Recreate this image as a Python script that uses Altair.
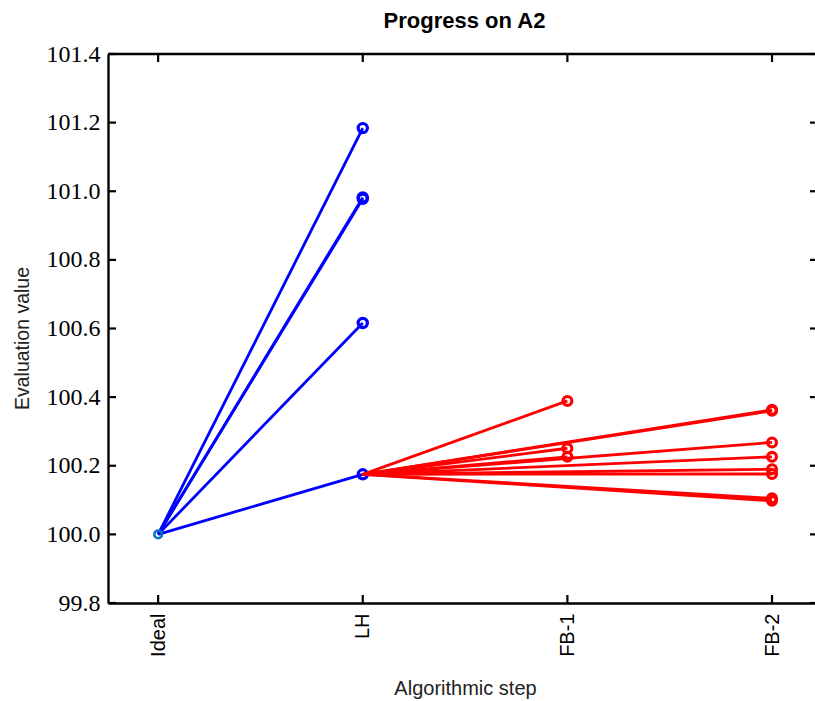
import altair as alt
import pandas as pd

# ---- data ----
chart_title = "Progress on A2"
steps = ["Ideal", "LH", "FB-1", "FB-2"]
ideal_value = 100.0
lh_values = [101.184, 100.982, 100.978, 100.616, 100.175]   # blue segments Ideal -> LH
lh_base = 100.175                                            # start of red segments
fb1_values = [100.389, 100.251, 100.226]                     # red segments LH -> FB-1
fb2_values = [100.363, 100.360, 100.268, 100.226, 100.190, 100.176, 100.105, 100.098]  # LH -> FB-2
y_ticks = [99.8, 100.0, 100.2, 100.4, 100.6, 100.8, 101.0, 101.2, 101.4]
x_ticks = [0, 1, 2, 3]

# ---- tables ----
blue_rows, red_rows = [], []
for i, v in enumerate(lh_values):
    blue_rows += [{"run": f"b{i}", "step": 0, "value": ideal_value},
                  {"run": f"b{i}", "step": 1, "value": v}]
for i, v in enumerate(fb1_values):
    red_rows += [{"run": f"r1_{i}", "step": 1, "value": lh_base},
                 {"run": f"r1_{i}", "step": 2, "value": v}]
for i, v in enumerate(fb2_values):
    red_rows += [{"run": f"r2_{i}", "step": 1, "value": lh_base},
                 {"run": f"r2_{i}", "step": 3, "value": v}]
blue_df = pd.DataFrame(blue_rows)
red_df = pd.DataFrame(red_rows)
blue_pts = blue_df[blue_df.step == 1]
red_pts = red_df[red_df.step > 1]
ideal_df = pd.DataFrame({"step": [0], "value": [ideal_value]})
ytick_df = pd.DataFrame({"value": y_ticks})
xtick_df = pd.DataFrame({"step": x_ticks})
title_df = pd.DataFrame({"t": [chart_title]})

W, H = 707, 549
SANS = "Liberation Sans"
SERIF = "Liberation Serif"

x_scale = alt.Scale(domain=[-0.245, 3.21], nice=False, zero=False)
y_scale = alt.Scale(domain=[99.8, 101.4], nice=False, zero=False)

label_expr = "[" + ",".join(f"'{s}'" for s in steps) + "][datum.value]"
x_axis = alt.Axis(values=x_ticks, labelExpr=label_expr, ticks=False, grid=False,
                  domain=True, domainColor="black", domainWidth=2.4,
                  labelAngle=270, labelFont=SANS, labelFontSize=20, labelColor="black",
                  labelPadding=10, title="Algorithmic step", titleFont=SANS,
                  titleFontSize=20, titleFontWeight="normal", titleColor="#222",
                  titleX=357, titleY=91, titleAlign="center", titleBaseline="alphabetic")
y_axis = alt.Axis(values=y_ticks, format=".1f", ticks=False, grid=False,
                  domain=True, domainColor="black", domainWidth=2.4,
                  labelFont=SERIF, labelFontSize=24, labelColor="black", labelPadding=8,
                  title="Evaluation value", titleFont=SANS, titleFontSize=19.5,
                  titleFontWeight="normal", titleColor="#222",
                  titleX=-80, titleY=284, titleAngle=270, titleAlign="center",
                  titleBaseline="alphabetic")

X = alt.X("step:Q", scale=x_scale, axis=x_axis)
Y = alt.Y("value:Q", scale=y_scale, axis=y_axis)

BLUE, RED, IDEAL = "#0000ff", "#ff0000", "#0a74bd"

blue_lines = alt.Chart(blue_df).mark_line(color=BLUE, strokeWidth=2.8).encode(
    x=X, y=Y, detail="run:N")
ideal_pt = alt.Chart(ideal_df).mark_point(color=IDEAL, filled=False, size=58, strokeWidth=2.6,
                                          opacity=1).encode(x=X, y=Y)
blue_points = alt.Chart(blue_pts).mark_point(color=BLUE, filled=False, size=85, strokeWidth=3.2,
                                             opacity=1).encode(x=X, y=Y)
red_lines = alt.Chart(red_df).mark_line(color=RED, strokeWidth=2.8).encode(
    x=X, y=Y, detail="run:N")
red_points = alt.Chart(red_pts).mark_point(color=RED, filled=False, size=78, strokeWidth=3.2,
                                           opacity=1).encode(x=X, y=Y)

# inward tick marks and top spine
tick_style = dict(color="black", strokeWidth=2.2)
left_ticks = alt.Chart(ytick_df).mark_rule(**tick_style).encode(
    y=Y, x=alt.value(0), x2=alt.value(8))
right_ticks = alt.Chart(ytick_df).mark_rule(**tick_style).encode(
    y=Y, x=alt.value(W - 5), x2=alt.value(W))
bottom_ticks = alt.Chart(xtick_df).mark_rule(**tick_style).encode(
    x=X, y=alt.value(H), y2=alt.value(H - 8))
top_ticks = alt.Chart(xtick_df).mark_rule(**tick_style).encode(
    x=X, y=alt.value(0), y2=alt.value(8))
top_spine = alt.Chart(ideal_df).mark_rule(color="black", strokeWidth=2.4).encode(
    x=alt.value(0), x2=alt.value(W), y=alt.value(0))

title_mark = alt.Chart(title_df).mark_text(
    font=SANS, fontSize=22, fontWeight="bold", color="black",
    align="center", baseline="alphabetic"
).encode(text="t:N", x=alt.value(W / 2 + 3), y=alt.value(-26))

chart = alt.layer(
    blue_lines, ideal_pt, blue_points, red_lines, red_points,
    left_ticks, right_ticks, bottom_ticks, top_ticks, top_spine, title_mark
).properties(
    width=W, height=H,
    autosize=alt.AutoSizeParams(type="none"),
    padding={"left": 108, "top": 54, "right": 0, "bottom": 98},
).configure_view(stroke=None).configure(background="white")

chart.save("out.html", embed_options={"renderer": "svg", "actions": False})
